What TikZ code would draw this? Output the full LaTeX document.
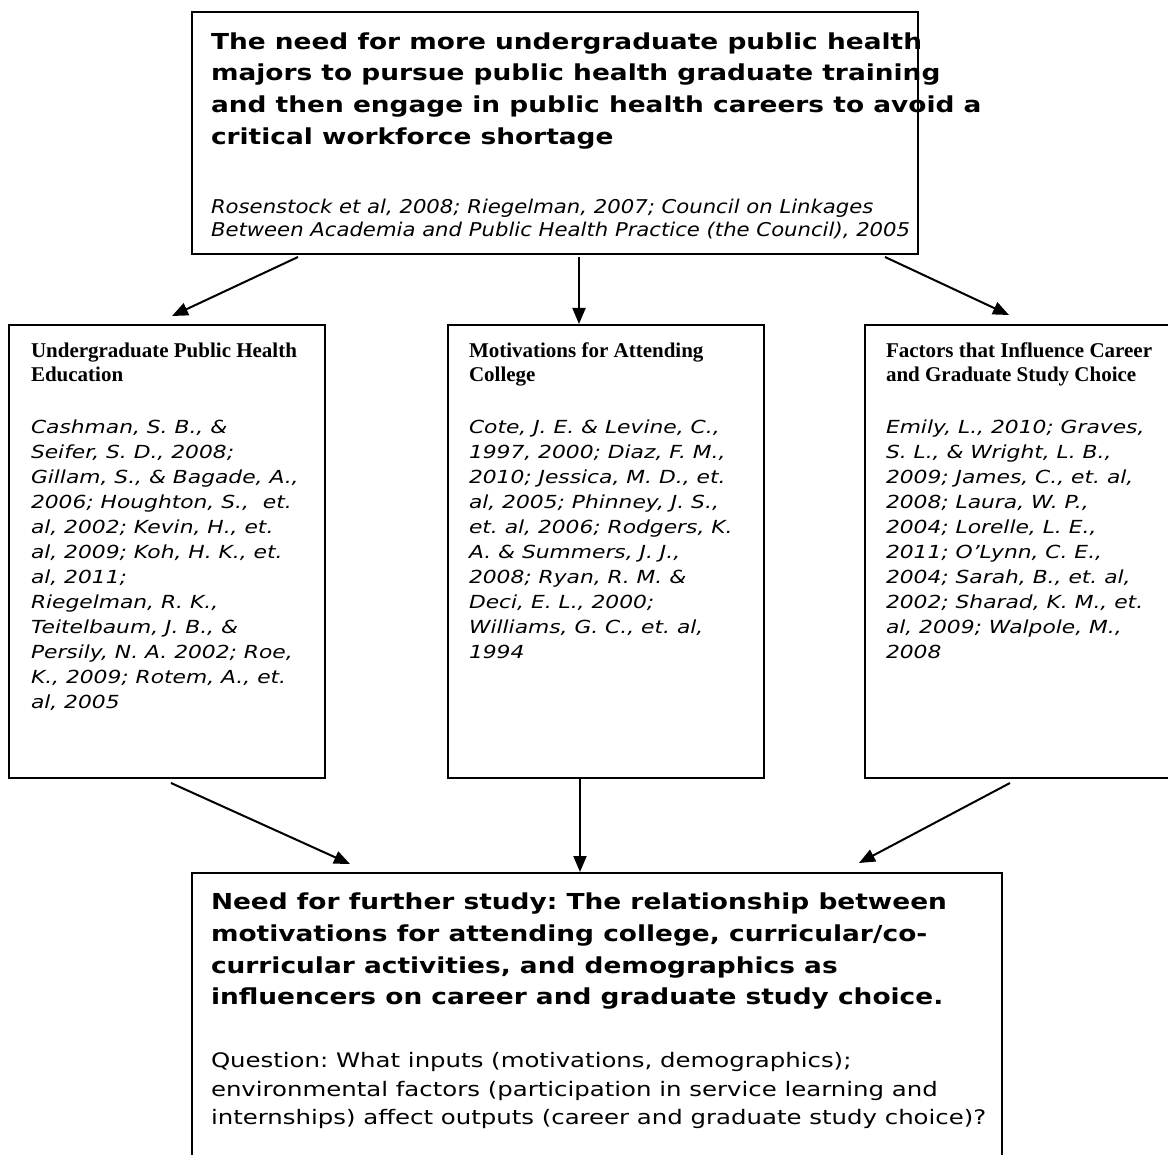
\documentclass[tikz,border=0pt]{standalone}
\usepackage{fontspec}
\setmainfont{DejaVu Sans}
\newfontfamily\headfont{Liberation Serif}
\newfontfamily\titlefont[FakeStretch=1.2]{DejaVu Sans}
\newfontfamily\topcitefont[FakeStretch=1.115]{DejaVu Sans}
\newfontfamily\citefont[FakeStretch=1.21]{DejaVu Sans}
\newfontfamily\questfont[FakeStretch=1.22]{DejaVu Sans}
\usetikzlibrary{positioning}
\usetikzlibrary{arrows.meta}
\tikzstyle{box}=[draw, line width=2pt, inner sep=0, outer sep=0, anchor=north west]
\tikzstyle{smallbox}=[box, minimum width=316pt, minimum height=453pt]
\tikzstyle{txt}=[inner sep=0, outer sep=0, align=left, execute at begin node=\frenchspacing]
\tikzstyle{bigbold}=[txt, font=\fontsize{22}{31.7}\selectfont\titlefont\bfseries]
\tikzstyle{cite}=[txt, font=\fontsize{18}{25}\selectfont\citefont\itshape]
\tikzstyle{head}=[txt, font=\fontsize{21}{23.3}\selectfont\headfont\bfseries]
\tikzstyle{link}=[line width=2pt, -{Triangle[length=16pt, width=13pt]}]

\begin{document}
\begin{tikzpicture}[x=1pt, y=-1pt]
        \useasboundingbox (0,0) rectangle (1168,1155);
        \clip (0,0) rectangle (1168,1155);
        % top box
        \node[box, minimum width=726pt, minimum height=242pt] (need) at (192, 12) {};
        \node[bigbold, below right=15pt and 19pt of need.north west] (needtitle)
            {\strut The need for more undergraduate public health\\
             majors to pursue public health graduate training\\
             and then engage in public health careers to avoid a\\
             critical workforce shortage};
        \node[txt, font=\fontsize{19}{22.5}\selectfont\topcitefont\itshape, below right=186pt and 19pt of need.north west] (needcite)
            {\strut Rosenstock et al, 2008; Riegelman, 2007; Council on Linkages\\
             Between Academia and Public Health Practice (the Council), 2005};
        % three middle boxes
        \node[smallbox] (edu) at (9, 325) {};
        \node[smallbox] (motiv) at (448, 325) {};
        \node[smallbox] (career) at (865, 325) {};
        \node[head, below right=16.5pt and 22pt of edu.north west] (eduhead)
            {\strut Undergraduate Public Health\\ Education};
        \node[head, below right=16.5pt and 21pt of motiv.north west] (motivhead)
            {\strut Motivations for Attending\\ College};
        \node[head, below right=16.5pt and 21pt of career.north west] (careerhead)
            {\strut Factors that Influence Career\\ and Graduate Study Choice};
        \node[cite, below right=90.5pt and 22pt of edu.north west] (educite)
            {\strut Cashman, S. B., \&\\
             Seifer, S. D., 2008;\\
             Gillam, S., \& Bagade, A.,\\
             2006; Houghton, S., \ et.\\
             al, 2002; Kevin, H., et.\\
             al, 2009; Koh, H. K., et.\\
             al, 2011;\\
             Riegelman, R. K.,\\
             Teitelbaum, J. B., \&\\
             Persily, N. A. 2002; Roe,\\
             K., 2009; Rotem, A., et.\\
             al, 2005};
        \node[cite, below right=90.5pt and 21pt of motiv.north west] (motivcite)
            {\strut Cote, J. E. \& Levine, C.,\\
             1997, 2000; Diaz, F. M.,\\
             2010; Jessica, M. D., et.\\
             al, 2005; Phinney, J. S.,\\
             et. al, 2006; Rodgers, K.\\
             A. \& Summers, J. J.,\\
             2008; Ryan, R. M. \&\\
             Deci, E. L., 2000;\\
             Williams, G. C., et. al,\\
             1994};
        \node[cite, below right=90.5pt and 21pt of career.north west] (careercite)
            {\strut Emily, L., 2010; Graves,\\
             S. L., \& Wright, L. B.,\\
             2009; James, C., et. al,\\
             2008; Laura, W. P.,\\
             2004; Lorelle, L. E.,\\
             2011; O’Lynn, C. E.,\\
             2004; Sarah, B., et. al,\\
             2002; Sharad, K. M., et.\\
             al, 2009; Walpole, M.,\\
             2008};
        % bottom box
        \node[box, minimum width=810pt, minimum height=320pt] (study) at (192, 873) {};
        \node[bigbold, below right=14.6pt and 19pt of study.north west] (studytitle)
            {\strut Need for further study: The relationship between\\
             motivations for attending college, curricular/co-\\
             curricular activities, and demographics as\\
             influencers on career and graduate study choice.};
        \node[txt, font=\fontsize{20}{28.5}\selectfont\questfont, below right=175pt and 19pt of study.north west] (studyq)
            {\strut Question: What inputs (motivations, demographics);\\
             environmental factors (participation in service learning and\\
             internships) affect outputs (career and graduate study choice)?};
        % arrows
        \draw[link] ([xshift=106pt, yshift=-3pt]need.south west) -- ([xshift=163pt, yshift=9pt]edu.north west);
        \draw[link] ([xshift=387pt, yshift=-3pt]need.south west) -- ([xshift=131pt, yshift=1pt]motiv.north west);
        \draw[link] ([xshift=693pt, yshift=-3pt]need.south west) -- ([xshift=144pt, yshift=10pt]career.north west);
        \draw[link] ([xshift=162pt, yshift=-5pt]edu.south west) -- ([xshift=158pt, yshift=9pt]study.north west);
        \draw[link] ([xshift=132pt]motiv.south west) -- ([xshift=388pt, yshift=1pt]study.north west);
        \draw[link] ([xshift=145pt, yshift=-5pt]career.south west) -- ([xshift=667pt, yshift=10pt]study.north west);
    \end{tikzpicture}
\end{document}
